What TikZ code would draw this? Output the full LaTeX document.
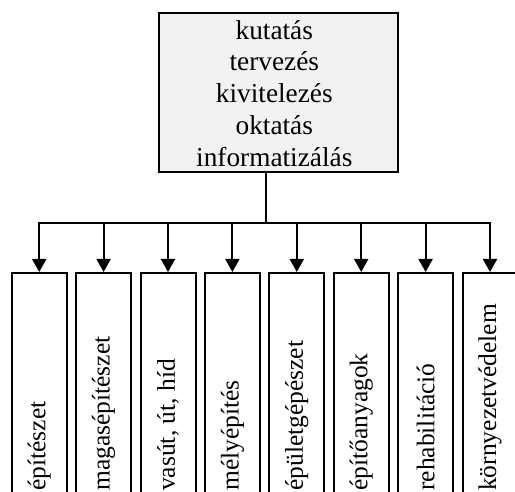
\documentclass[tikz,border=0pt]{standalone}
\usepackage{fontspec}
\setmainfont{Liberation Serif}
\usepackage{tikz}
\usetikzlibrary{arrows.meta}
\definecolor{panelgray}{RGB}{242,242,242}

\begin{document}
\begin{tikzpicture}[x=1pt,y=1pt,
  wire/.style={line width=2pt},
  branch/.style={line width=2pt,-{Triangle[width=14pt,length=13pt]}},
  field/.style={draw,line width=2pt,minimum width=55pt,minimum height=240pt,anchor=north,inner sep=0},
  fieldname/.style={rotate=90,anchor=west,inner sep=0,font=\fontsize{25.5}{30}\selectfont}]
\useasboundingbox (0,0) rectangle (515,492);
\node[draw,line width=2pt,fill=panelgray,minimum width=239pt,minimum height=159pt,inner sep=0] (top) at (278.8,399.8) {};
\node[align=center,inner sep=0,font=\fontsize{27.3}{31.75}\selectfont] (tasks) at (274.3,398.8) {kutatás\\tervezés\\kivitelezés\\oktatás\\informatizálás};
\coordinate (hub) at (266,269);
\node[field] (f1) at (39.2,220) {};
\node[field] (f2) at (103.6,220) {};
\node[field] (f3) at (168,220) {};
\node[field] (f4) at (232.4,220) {};
\node[field] (f5) at (296.8,220) {};
\node[field] (f6) at (361.2,220) {};
\node[field] (f7) at (425.6,220) {};
\node[field] (f8) at (490,220) {};
\node[fieldname] (n1) at (f1.center |- 0,1) {építészet};
\node[fieldname] (n2) at (f2.center |- 0,1) {magasépítészet};
\node[fieldname] (n3) at (f3.center |- 0,1) {vasút, út, híd};
\node[fieldname] (n4) at (f4.center |- 0,1) {mélyépítés};
\node[fieldname] (n5) at (f5.center |- 0,1) {épületgépészet};
\node[fieldname] (n6) at (f6.center |- 0,1) {építőanyagok};
\node[fieldname] (n7) at (f7.center |- 0,1) {rehabilitáció};
\node[fieldname] (n8) at (f8.center |- 0,1) {környezetvédelem};
\draw[wire] (top.south -| hub) -- (hub);
\draw[branch] (hub) -| (f1.north);
\draw[branch] (hub) -| (f2.north);
\draw[branch] (hub) -| (f3.north);
\draw[branch] (hub) -| (f4.north);
\draw[branch] (hub) -| (f5.north);
\draw[branch] (hub) -| (f6.north);
\draw[branch] (hub) -| (f7.north);
\draw[branch] (hub) -| (f8.north);
\end{tikzpicture}
\end{document}
